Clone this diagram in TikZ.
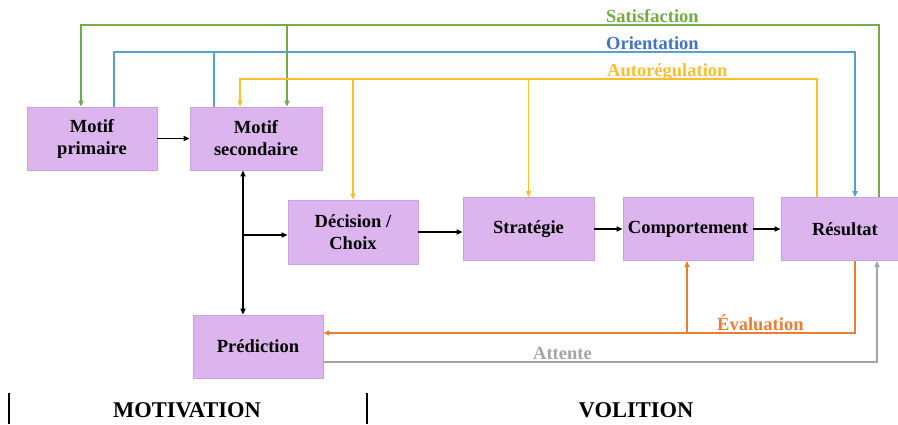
\documentclass[tikz,border=0pt]{standalone}
\usepackage{fontspec}
\setmainfont{Liberation Serif}
\usetikzlibrary{arrows.meta,positioning,calc}
\definecolor{boxfill}{RGB}{220,181,238}
\definecolor{boxedge}{RGB}{205,160,228}
\definecolor{satC}{RGB}{112,173,71}
\definecolor{oriC}{RGB}{84,160,208}
\definecolor{oriT}{RGB}{68,114,196}
\definecolor{autoC}{RGB}{252,190,45}
\definecolor{evalC}{RGB}{237,125,49}
\definecolor{attC}{RGB}{165,165,165}

\begin{document}
\begin{tikzpicture}
  [x=1pt,y=-1pt,
   stageN/.style={rectangle,draw=boxedge,fill=boxfill,line width=0.8pt,
     minimum width=130pt,minimum height=63pt,align=center,
     font=\fontsize{18.5}{22}\selectfont\bfseries},
   lblN/.style={inner sep=0pt,anchor=base west,
     font=\fontsize{18.5}{22}\selectfont\bfseries},
   tip/.style={-{Triangle[length=6pt,width=5pt]}},
   flow/.style={tip,line width=1.5pt,black},
   colL/.style={tip,line width=1.5pt}]

  \useasboundingbox (0,0) rectangle (898,424);

  % boxes
  \node[stageN] (mp) at (92,138.5) {Motif\\primaire};
  \node[stageN,minimum width=132pt] (ms) at (256,138.5) {Motif\\secondaire};
  \node[stageN,minimum height=64pt] (dc) at (353,232) {Décision /\\Choix};
  \node[stageN,minimum width=131pt] (st) at (528.5,229) {Stratégie};
  \node[stageN] (cp) at (688,229) {Comportement};
  \node[stageN,minimum width=128pt] (rs) at (845,229) {Résultat};
  \node[stageN] (pr) at (258,346.5) {Prédiction};

  \coordinate (satY) at (0,25);
  \coordinate (oriY) at (0,52);
  \coordinate (autoY) at (0,79);
  \coordinate (evalY) at (0,333);

  % loops on top
  \draw[colL,satC] ([xshift=34pt]rs.north) -- ([xshift=34pt]rs.north |- satY)
       -| ([xshift=-11pt]mp.north);
  \draw[colL,satC] ([xshift=31pt]ms.north |- satY) -- ([xshift=31pt]ms.north);

  \draw[colL,oriC] ([xshift=22pt]mp.north) |- ([xshift=10pt]rs.north |- oriY)
       -- ([xshift=10pt]rs.north);
  \draw[line width=1.5pt,oriC] ([xshift=-42pt]ms.north) -- ([xshift=-42pt]ms.north |- oriY);

  \draw[colL,autoC] ([xshift=-28pt]rs.north) |- ([xshift=-16pt]ms.north |- autoY)
       -- ([xshift=-16pt]ms.north);
  \draw[colL,autoC] (dc.north |- autoY) -- (dc.north);
  \draw[colL,autoC] (st.north |- autoY) -- (st.north);

  \node[lblN,text=satC] (satl) at (606,22) {Satisfaction};
  \node[lblN,text=oriT] (oril) at (606,49) {Orientation};
  \node[lblN,text=autoC] (autol) at (607,76) {Autorégulation};

  % main chain
  \draw[flow] (mp) -- (ms);
  \draw[flow,{Triangle[length=6pt,width=5pt]}-{Triangle[length=6pt,width=5pt]}]
       ([xshift=-13pt]ms.south) -- ([xshift=-13pt]ms.south |- pr.north);
  \draw[flow] ([xshift=-13pt,yshift=-3pt]ms.south |- dc.west) -- ([yshift=-3pt]dc.west);
  \draw[flow] (dc.east) -- (dc.east -| st.west);
  \draw[flow] (st) -- (cp);
  \draw[flow] (cp) -- (rs);

  % loops below
  \draw[colL,evalC] ([xshift=10pt]rs.south) |- (pr.east |- evalY);
  \draw[colL,evalC] ([xshift=-1pt]cp.south |- evalY) -- ([xshift=-1pt]cp.south);
  \draw[colL,attC] ([yshift=-15.5pt]pr.east) -| ([xshift=32pt]rs.south);

  \node[lblN,text=evalC] (evall) at (717,330) {Évaluation};
  \node[lblN,text=attC] (attl) at (533,359) {Attente};

  % phases
  \draw[line width=1.5pt] (9,393) -- (9,424);
  \draw[line width=1.5pt] (367,393) -- (367,424);
  \node[font=\fontsize{22.5}{26}\selectfont\bfseries] (motiv) at (187,410) {MOTIVATION};
  \node[font=\fontsize{22.5}{26}\selectfont\bfseries] (voli) at (636,410) {VOLITION};

\end{tikzpicture}
\end{document}
